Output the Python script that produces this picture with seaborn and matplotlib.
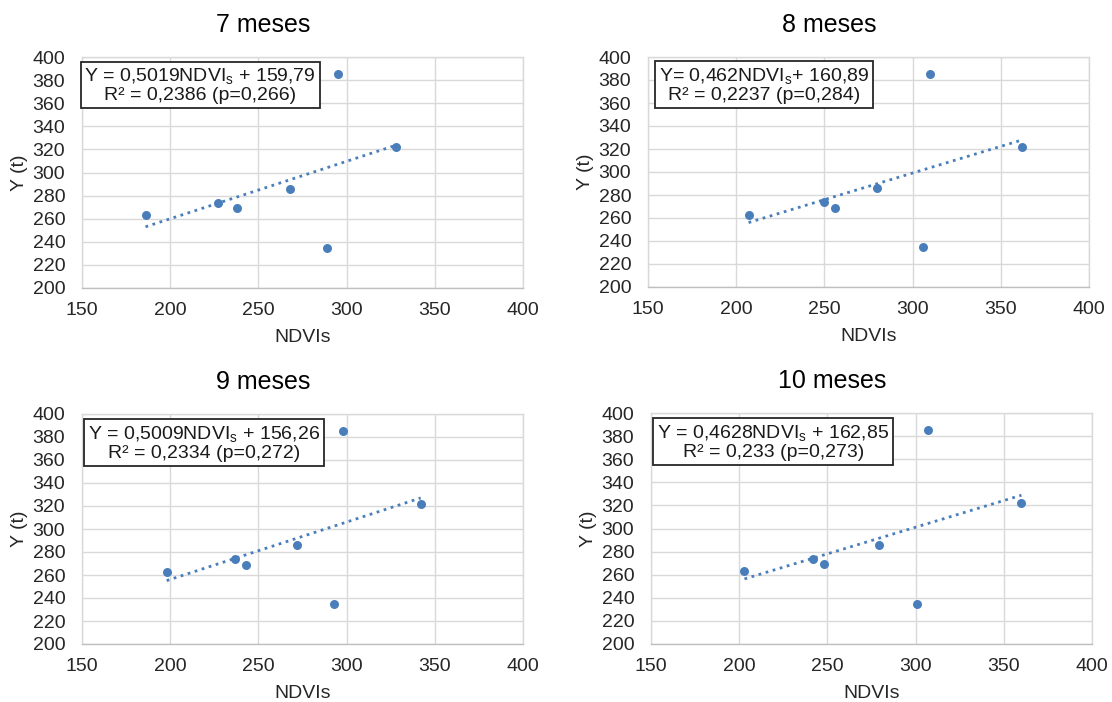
import matplotlib
matplotlib.use('Agg')
import matplotlib.pyplot as plt
import seaborn as sns

# Data (Y is the same for every month)
meses = ['7 meses', '8 meses', '9 meses', '10 meses']
y_t = [263, 274, 269, 286, 235, 385, 322]
ndvi_7 = [186, 227, 238, 268, 289, 295, 328]
ndvi_8 = [207, 250, 256, 280, 306, 310, 362]
ndvi_9 = [198, 237, 243, 272, 293, 298, 342]
ndvi_10 = [203, 242, 248, 279, 301, 307, 360]
ndvi_all = [ndvi_7, ndvi_8, ndvi_9, ndvi_10]

equations = ['Y = 0,5019NDVI$_\\mathregular{s}$ + 159,79',
             'Y= 0,462NDVI$_\\mathregular{s}$+ 160,89',
             'Y = 0,5009NDVI$_\\mathregular{s}$ + 156,26',
             'Y = 0,4628NDVI$_\\mathregular{s}$ + 162,85']
r2_text = ['R² = 0,2386 (p=0,266)',
           'R² = 0,2237 (p=0,284)',
           'R² = 0,2334 (p=0,272)',
           'R² = 0,233 (p=0,273)']

sns.set_theme(style='whitegrid')
plt.rcParams['font.family'] = ['Liberation Sans', 'DejaVu Sans']
plt.rcParams['mathtext.fontset'] = 'custom'
plt.rcParams['mathtext.rm'] = 'Liberation Sans'

blue = '#4a7ebb'
fig = plt.figure(figsize=(11.12, 7.02), dpi=100)

# axes positions in pixels: left, top, right, bottom
boxes = [(82, 57, 523, 288), (648, 57, 1089, 287),
         (82, 414, 523, 644), (651, 413, 1092, 644)]
note_pos = [(0.268, 0.877), (0.263, 0.878), (0.277, 0.874), (0.277, 0.874)]

for i, (l, t, r, b) in enumerate(boxes):
    ax = fig.add_axes([l / 1112, (702 - b) / 702, (r - l) / 1112, (b - t) / 702])
    sns.regplot(x=ndvi_all[i], y=y_t, ax=ax, ci=None, color=blue,
                scatter_kws=dict(s=42, linewidths=0, alpha=1),
                line_kws=dict(ls=':', lw=2))
    ax.set_xlim(150, 400)
    ax.set_ylim(200, 400)
    ax.set_xticks(range(150, 401, 50))
    ax.set_yticks(range(200, 401, 20))
    ax.grid(True, color='#d9d9d9', lw=1)
    for s in ax.spines.values():
        s.set_color('#d9d9d9')
        s.set_linewidth(1)
    ax.spines['bottom'].set_color('#bfbfbf')
    ax.tick_params(axis='both', length=0, labelsize=14, colors='#262626')
    ax.tick_params(axis='y', pad=12)
    ax.tick_params(axis='x', pad=10)
    ax.set_xlabel('NDVIs', fontsize=14, color='#262626', labelpad=7)
    ax.set_ylabel('Y (t)', fontsize=14, color='#262626', labelpad=3)
    ax.text(0.41, 1.0 + 32 / (b - t), meses[i], transform=ax.transAxes,
            ha='center', va='center', fontsize=18, color='black')
    ax.text(note_pos[i][0], note_pos[i][1], equations[i] + '\n' + r2_text[i],
            transform=ax.transAxes, ha='center', va='center',
            multialignment='center', fontsize=14, color='#1a1a1a',
            linespacing=1.0,
            bbox=dict(boxstyle='square,pad=0.2', fc='white', ec='#262626', lw=1.3))

plt.savefig('out.png', dpi=100)
